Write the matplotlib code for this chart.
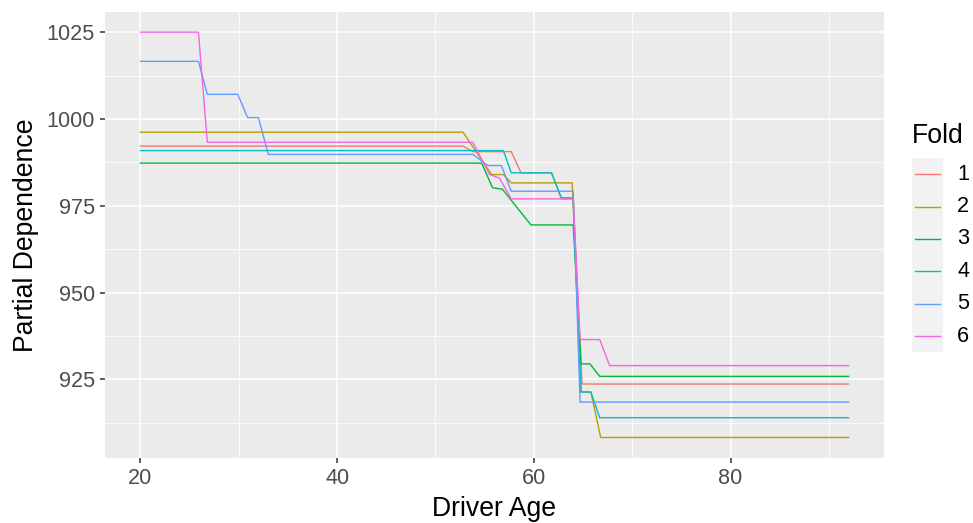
import matplotlib
matplotlib.use("Agg")
import matplotlib.pyplot as plt
from matplotlib.patches import Rectangle
from matplotlib.lines import Line2D

plt.rcParams['font.family'] = ['Liberation Sans', 'DejaVu Sans']

# Partial dependence of predicted claim cost on driver age, one curve per CV fold
fold_labels = ["1", "2", "3", "4", "5", "6"]
fold_colors = ["#F8766D", "#B79F00", "#00BA38", "#00BFC4", "#619CFF", "#F564E3"]

age_1 = [20, 52.8, 53.8, 57.7, 58.7, 61.8, 62.8, 64.0, 64.9, 92]
pd_1 = [992.2, 992.2, 990.6, 990.6, 984.5, 984.5, 977.0, 977.0, 923.7, 923.7]

age_2 = [20, 52.8, 55.7, 56.9, 57.7, 63.9, 64.8, 65.8, 66.8, 92]
pd_2 = [996.2, 996.2, 984.0, 984.0, 981.6, 981.6, 921.4, 921.4, 908.3, 908.3]

age_3 = [20, 54.7, 55.8, 56.8, 59.7, 64.0, 64.8, 65.7, 66.7, 92]
pd_3 = [987.3, 987.3, 980.2, 979.8, 969.5, 969.5, 929.5, 929.5, 925.9, 925.9]

age_4 = [20, 56.9, 57.7, 61.8, 62.8, 64.0, 64.8, 65.8, 66.7, 92]
pd_4 = [990.9, 990.9, 984.5, 984.5, 977.3, 977.3, 921.4, 921.4, 914.0, 914.0]

age_5 = [20, 25.9, 26.8, 29.9, 30.9, 32.0, 33.0, 53.8, 55.3, 56.7, 57.7, 64.0, 64.7, 92]
pd_5 = [1016.6, 1016.6, 1007.1, 1007.1, 1000.4, 1000.4, 989.8, 989.8, 986.6, 986.6,
        979.2, 979.2, 918.5, 918.5]

age_6 = [20, 25.9, 26.8, 53.8, 55.5, 56.5, 57.7, 64.0, 64.7, 66.7, 67.7, 92]
pd_6 = [1025.0, 1025.0, 993.3, 993.3, 984.0, 983.0, 977.0, 977.0, 936.5, 936.5, 929.0, 929.0]

x_major = [20, 40, 60, 80]
x_minor = [30, 50, 70, 90]
y_major = [925, 950, 975, 1000, 1025]
y_minor = [912.5, 937.5, 962.5, 987.5, 1012.5]

ages = [age_1, age_2, age_3, age_4, age_5, age_6]
values = [pd_1, pd_2, pd_3, pd_4, pd_5, pd_6]

W, H = 973, 523
fig = plt.figure(figsize=(W / 100, H / 100), dpi=100)
fig.patch.set_facecolor("white")

L, R, T, B = 105, 884, 12, 458
ax = fig.add_axes([L / W, 1 - B / H, (R - L) / W, (B - T) / H])
ax.set_facecolor("#EBEBEB")
for s in ax.spines.values():
    s.set_visible(False)

ax.set_xlim(16.4, 95.6)
ax.set_ylim(902.4, 1030.8)
ax.set_xticks(x_major)
ax.set_xticks(x_minor, minor=True)
ax.set_yticks(y_major)
ax.set_yticks(y_minor, minor=True)
ax.grid(which="major", color="white", lw=1.1)
ax.grid(which="minor", color="white", lw=0.55)
ax.set_axisbelow(True)
ax.tick_params(which="major", length=3.6, width=1.1, color="#333333",
               labelcolor="#4D4D4D", labelsize=15.6, pad=3.6)
ax.tick_params(which="minor", length=0)

for a, v, c in zip(ages, values, fold_colors):
    ax.plot(a, v, color=c, lw=1.0, solid_joinstyle="round")

# axis titles
fig.text((L + R) / 2 / W, 1 - 516 / H, "Driver Age", ha="center", va="baseline",
         fontsize=19.2, color="black")
fig.text(26 / W, 1 - (T + B) / 2 / H, "Partial Dependence", ha="center", va="center",
         rotation=90, fontsize=19.2, color="black")

# legend
fig.text(912 / W, 1 - 143 / H, "Fold", ha="left", va="baseline", fontsize=19.2,
         color="black")
key_x0, key_x1 = 911.7, 943.3
key_top, key_h = 158, 32.4
fig.patches.append(Rectangle((key_x0 / W, 1 - (key_top + key_h * 6) / H),
                             (key_x1 - key_x0) / W, key_h * 6 / H,
                             transform=fig.transFigure, facecolor="#F2F2F2",
                             edgecolor="none"))
for i, (lab, c) in enumerate(zip(fold_labels, fold_colors)):
    yc = key_top + key_h * (i + 0.5)
    fig.lines.append(Line2D([915 / W, 940 / W], [1 - yc / H, 1 - yc / H],
                            transform=fig.transFigure, color=c, lw=1.0))
    fig.text(957 / W, 1 - yc / H, lab, ha="left", va="center", fontsize=15.6,
             color="black")

fig.savefig("out.png", dpi=100)
